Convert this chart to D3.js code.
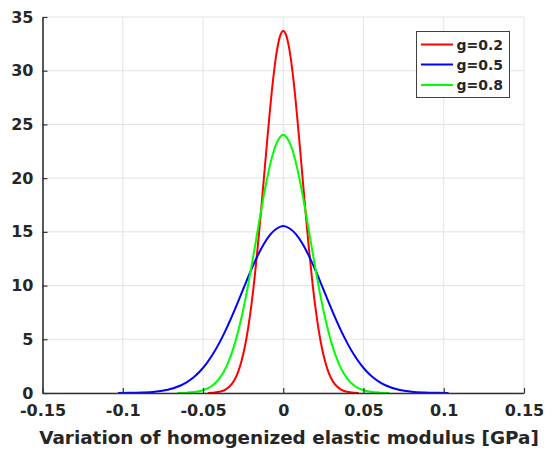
<!DOCTYPE html>
<html>
<head>
<meta charset="utf-8">
<script src="https://cdn.jsdelivr.net/npm/d3@7"></script>
<style>
  body { margin: 0; background: #fff; }
  svg text { font-family: "DejaVu Sans", Verdana, sans-serif; font-weight: bold; fill: #262626; }
</style>
</head>
<body>
<svg id="chart" width="552" height="450"></svg>
<script>
// ---- Data ----
const xTicks = [-0.15, -0.1, -0.05, 0, 0.05, 0.1, 0.15];
const xTickLabels = ["-0.15", "-0.1", "-0.05", "0", "0.05", "0.1", "0.15"];
const yTicks = [0, 5, 10, 15, 20, 25, 30, 35];
const seriesNames = ["g=0.2", "g=0.5", "g=0.8"];
const seriesColors = ["#ff0000", "#0000ff", "#00ff00"];

const redX = [-0.047, -0.044, -0.040, -0.036, -0.032, -0.030, -0.028, -0.026, -0.024, -0.022, -0.020, -0.018, -0.016, -0.014, -0.012, -0.010, -0.008, -0.006, -0.004, -0.002, 0,
              0.002, 0.004, 0.006, 0.008, 0.010, 0.012, 0.014, 0.016, 0.018, 0.020, 0.022, 0.024, 0.026, 0.028, 0.030, 0.032, 0.036, 0.040, 0.044, 0.047];
const redY = [0.01, 0.03, 0.11, 0.32, 0.85, 1.33, 2.02, 2.98, 4.26, 5.93, 8.01, 10.53, 13.44, 16.67, 20.10, 23.53, 26.78, 29.61, 31.82, 33.22, 33.70,
              33.22, 31.82, 29.61, 26.78, 23.53, 20.10, 16.67, 13.44, 10.53, 8.01, 5.93, 4.26, 2.98, 2.02, 1.33, 0.85, 0.32, 0.11, 0.03, 0.01];

const blueX = [-0.103, -0.096, -0.088, -0.080, -0.072, -0.064, -0.060, -0.056, -0.052, -0.048, -0.044, -0.040, -0.036, -0.032, -0.028, -0.024, -0.020, -0.016, -0.012, -0.008, -0.004, 0,
               0.004, 0.008, 0.012, 0.016, 0.020, 0.024, 0.028, 0.032, 0.036, 0.040, 0.044, 0.048, 0.052, 0.056, 0.060, 0.064, 0.072, 0.080, 0.088, 0.096, 0.103];
const blueY = [0.005, 0.014, 0.044, 0.12, 0.31, 0.70, 1.02, 1.44, 2.00, 2.71, 3.58, 4.62, 5.81, 7.14, 8.56, 10.02, 11.45, 12.77, 13.90, 14.77, 15.31, 15.55,
               15.31, 14.77, 13.90, 12.77, 11.45, 10.02, 8.56, 7.14, 5.81, 4.62, 3.58, 2.71, 2.00, 1.44, 1.02, 0.70, 0.31, 0.12, 0.044, 0.014, 0.005];

const greenX = [-0.066, -0.060, -0.055, -0.050, -0.045, -0.040, -0.035, -0.030, -0.025, -0.0225, -0.020, -0.0175, -0.015, -0.0125, -0.010, -0.0075, -0.005, -0.0025, 0,
                0.0025, 0.005, 0.0075, 0.010, 0.0125, 0.015, 0.0175, 0.020, 0.0225, 0.025, 0.030, 0.035, 0.040, 0.045, 0.050, 0.055, 0.060, 0.066];
const greenY = [0.01, 0.035, 0.10, 0.26, 0.61, 1.32, 2.60, 4.69, 7.72, 9.58, 11.61, 13.77, 15.96, 18.08, 20.02, 21.67, 22.94, 23.73, 24.05,
                23.73, 22.94, 21.67, 20.02, 18.08, 15.96, 13.77, 11.61, 9.58, 7.72, 4.69, 2.60, 1.32, 0.61, 0.26, 0.10, 0.035, 0.01];

const seriesX = [redX, blueX, greenX];
const seriesY = [redY, blueY, greenY];

// ---- Layout ----
const svg = d3.select("#chart");
const pL = 42.5, pR = 524, pT = 17, pB = 393;

const x = d3.scaleLinear().domain([-0.15, 0.15]).range([pL, pR]);
const y = d3.scaleLinear().domain([0, 35]).range([pB, pT]);

// grid
const grid = svg.append("g");
grid.selectAll("line.vx").data(xTicks).enter().append("line")
  .attr("x1", d => x(d)).attr("x2", d => x(d))
  .attr("y1", pT).attr("y2", pB)
  .attr("stroke", "#e3e3e3").attr("stroke-width", 1);
grid.selectAll("line.hy").data(yTicks).enter().append("line")
  .attr("x1", pL).attr("x2", pR)
  .attr("y1", d => y(d)).attr("y2", d => y(d))
  .attr("stroke", "#e3e3e3").attr("stroke-width", 1);

// curves
const line = d3.line().curve(d3.curveMonotoneX);
seriesX.forEach((xs, i) => {
  const pts = xs.map((v, j) => [x(v), y(seriesY[i][j])]);
  svg.append("path")
    .attr("d", line(pts))
    .attr("fill", "none")
    .attr("stroke", seriesColors[i])
    .attr("stroke-width", 2);
});

// axes
const xAxis = d3.axisBottom(x).tickValues(xTicks).tickFormat((d, i) => xTickLabels[i]).tickSizeInner(-5).tickSizeOuter(0).tickPadding(12);
const yAxis = d3.axisLeft(y).tickValues(yTicks).tickSizeInner(-5).tickSizeOuter(0).tickPadding(9);

const gx = svg.append("g").attr("transform", `translate(0,${pB})`).call(xAxis);
const gy = svg.append("g").attr("transform", `translate(${pL},0)`).call(yAxis);
[gx, gy].forEach(g => {
  g.select(".domain").attr("stroke", "#333333").attr("stroke-width", 1.6);
  g.selectAll(".tick line").attr("stroke", "#333333").attr("stroke-width", 1.2);
  g.selectAll(".tick text").style("font-size", "16px").style("font-family", "'DejaVu Sans', sans-serif").style("font-weight", "bold").attr("fill", "#262626");
});

// x label
svg.append("text")
  .attr("x", 289)
  .attr("y", 444)
  .attr("text-anchor", "middle")
  .style("font-size", "18.4px")
  .text("Variation of homogenized elastic modulus [GPa]");

// legend
const lg = svg.append("g");
lg.append("rect").attr("x", 416.5).attr("y", 31.5).attr("width", 93).attr("height", 66)
  .attr("fill", "#fff").attr("stroke", "#404040").attr("stroke-width", 1);
const legY = [44.5, 64.5, 85];
seriesNames.forEach((n, i) => {
  lg.append("line").attr("x1", 421).attr("x2", 453).attr("y1", legY[i]).attr("y2", legY[i])
    .attr("stroke", seriesColors[i]).attr("stroke-width", 2);
  lg.append("text").attr("x", 456.5).attr("y", legY[i] + 5).style("font-size", "14px").text(n);
});
</script>
</body>
</html>
